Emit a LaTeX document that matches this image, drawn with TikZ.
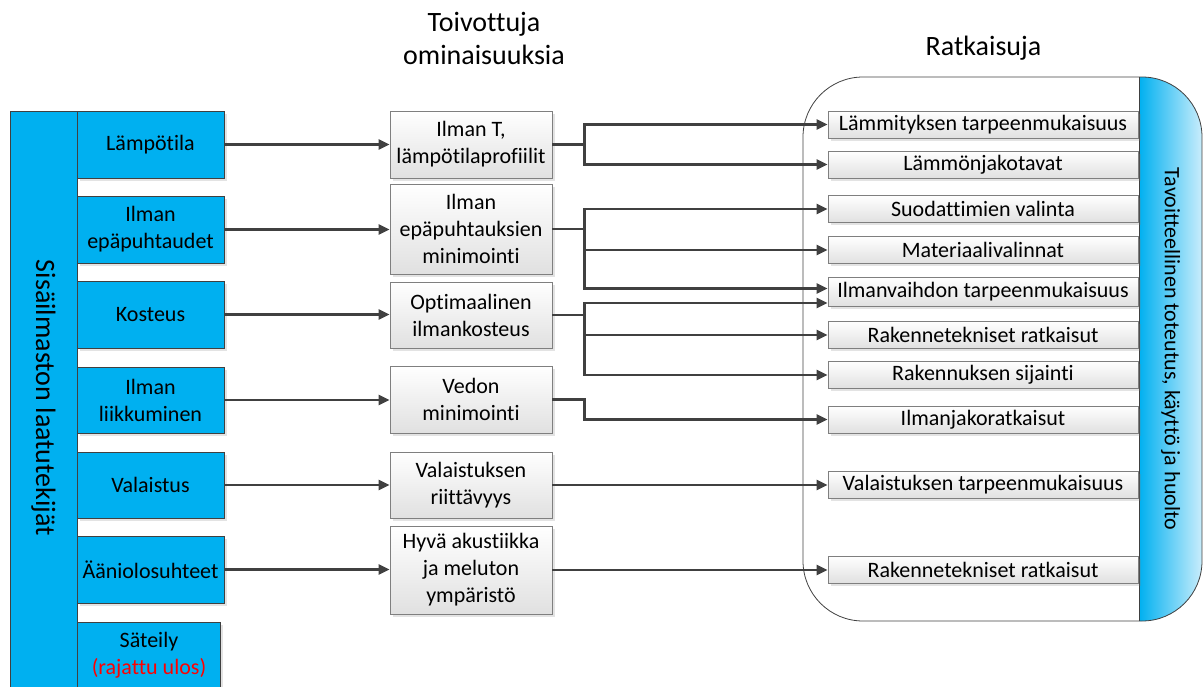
\documentclass[tikz,border=0pt]{standalone}
\usepackage{fontspec}
\setmainfont{Carlito}[Ligatures={NoCommon}]
\usetikzlibrary{arrows.meta,shadows}
\definecolor{factorblue}{HTML}{00B0F0}
\definecolor{linegray}{HTML}{404040}
\definecolor{boxedge}{HTML}{7F7F7F}
\definecolor{bandlight}{HTML}{E3F5FD}

\begin{document}
\begin{tikzpicture}[x=1pt,y=-1pt,
  every node/.style={font=\fontsize{22}{27}\selectfont, align=center, inner sep=0pt},
  softshadow/.style={drop shadow={shadow xshift=2.5pt,shadow yshift=-2.5pt,opacity=0.22,fill=black!50}},
  factor/.style={draw=linegray, line width=0.8pt, fill=factorblue, minimum width=147pt, softshadow},
  goal/.style={draw=boxedge, line width=0.8pt, top color=white, bottom color=black!12, minimum width=162pt, softshadow},
  solution/.style={draw=boxedge, line width=0.8pt, top color=white, bottom color=black!12, minimum width=310pt, minimum height=27pt, softshadow},
  link/.style={draw=linegray, line width=2.2pt, -{Triangle[length=11pt,width=10pt]}},
  heading/.style={font=\fontsize{28}{33}\selectfont}
]
\useasboundingbox (0,0) rectangle (1203,686);

% column headings
\node[heading] (hgoal) at (484,38) {Toivottuja\\ominaisuuksia};
\node[heading, anchor=base] (hsol) at (983.5,55) {Ratkaisuja};

% left column: quality factors
\filldraw[fill=factorblue, draw=linegray, line width=0.8pt] (10,111) rectangle (77,700);
\node[rotate=-90, heading] (bar) at (43.5,398) {Sisäilmaston laatutekijät};

\node[factor, minimum height=67pt] (lb1) at (150.5,144.5) {Lämpötila};
\node[factor, minimum height=67pt] (lb2) at (150.5,229.5) {Ilman\\epäpuhtaudet};
\node[factor, minimum height=67pt] (lb3) at (150.5,314.5) {Kosteus};
\node[factor, minimum height=66pt] (lb4) at (150.5,400) {Ilman\\liikkuminen};
\node[factor, minimum height=66pt] (lb5) at (150.5,485) {Valaistus};
\node[factor, minimum height=67pt] (lb6) at (150.5,569.5) {Ääniolosuhteet};
\filldraw[fill=factorblue, draw=linegray, line width=0.8pt, softshadow] (77,622) rectangle (220,700);
\node (lb7) at (149,655) {Säteily\\\textcolor{red}{(rajattu ulos)}};

% middle column: desired properties
\node[goal, minimum height=67pt] (mb1) at (471,144.5) {Ilman T,\\lämpötilaprofiilit};
\node[goal, minimum height=90pt] (mb2) at (471,229) {Ilman\\epäpuhtauksien\\minimointi};
\node[goal, minimum height=66pt] (mb3) at (471,315) {Optimaalinen\\ilmankosteus};
\node[goal, minimum height=67pt] (mb4) at (471,399.5) {Vedon\\minimointi};
\node[goal, minimum height=66pt] (mb5) at (471,485) {Valaistuksen\\riittävyys};
\node[goal, minimum height=88pt] (mb6) at (471,570) {Hyvä akustiikka\\ja meluton\\ympäristö};

% right column: solutions inside the rounded frame
\begin{scope}
  \clip[rounded corners=60pt] (803,77) rectangle (1202,621);
  \shade[left color=factorblue, right color=bandlight] (1139,70) rectangle (1210,630);
\end{scope}
\draw[linegray, line width=0.8pt] (1139,77) -- (1139,621);
\draw[linegray, line width=0.8pt, rounded corners=60pt] (803,77) rectangle (1202,621);
\node[rotate=-90] (band) at (1170.5,349) {Tavoitteellinen toteutus, käyttö ja huolto};

\node[solution] (r1) at (983,124.5) {Lämmityksen tarpeenmukaisuus};
\node[solution] (r2) at (983,164.5) {Lämmönjakotavat};
\node[solution] (r3) at (983,209) {Suodattimien valinta};
\node[solution] (r4) at (983,250) {Materiaalivalinnat};
\node[solution, minimum height=29pt] (r5) at (983,291.5) {Ilmanvaihdon tarpeenmukaisuus};
\node[solution] (r6) at (983,335) {Rakennetekniset ratkaisut};
\node[solution] (r7) at (983,375) {Rakennuksen sijainti};
\node[solution] (r8) at (983,419.5) {Ilmanjakoratkaisut};
\node[solution] (r9) at (983,484.5) {Valaistuksen tarpeenmukaisuus};
\node[solution] (r10) at (983,569.5) {Rakennetekniset ratkaisut};

% factors to properties
\foreach \i in {1,...,6}
  \draw[link] (lb\i.east) -- (lb\i.east -| mb\i.west);

% properties to solutions
\draw[link] (mb1.east) -- ++(32,0) |- (r1.west);
\draw[link] (mb1.east) -- ++(32,0) |- (r2.west);
\draw[link] (mb2.east) -- ++(32,0) |- (r3.west);
\draw[link] (mb2.east) -- ++(32,0) |- (r4.west);
\draw[link] (mb2.east) -- ++(32,0) |- ([yshift=3pt]r5.west);
\draw[link] (mb3.east) -- ++(32,0) |- ([yshift=-11.5pt]r5.west);
\draw[link] (mb3.east) -- ++(32,0) |- (r6.west);
\draw[link] (mb3.east) -- ++(32,0) |- (r7.west);
\draw[link] (mb4.east) -- ++(32,0) |- (r8.west);
\draw[link] (mb5.east) -- (mb5.east -| r9.west);
\draw[link] (mb6.east) -- (mb6.east -| r10.west);
\end{tikzpicture}
\end{document}
